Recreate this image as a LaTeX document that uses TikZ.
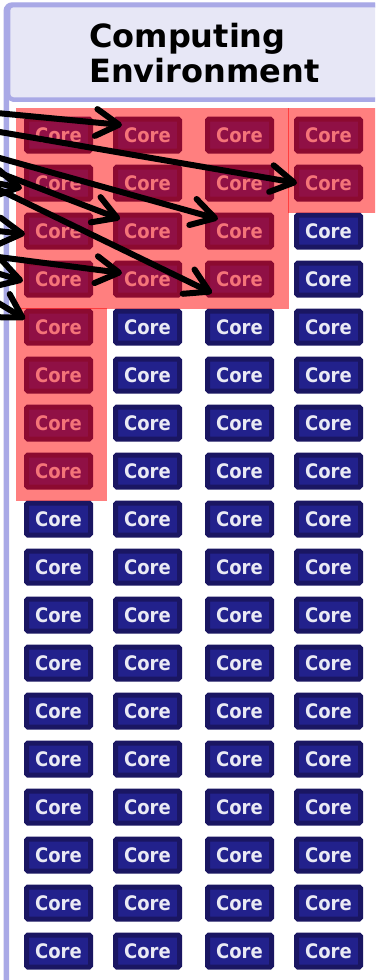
\documentclass[tikz,border=0pt]{standalone}
\usepackage{fontspec}
\setmainfont{DejaVu Sans}
\newfontfamily\condfont{DejaVu Sans Condensed}
\usetikzlibrary{arrows.meta}
\definecolor{lav}{HTML}{A9A9E6}
\definecolor{lavfill}{HTML}{E7E7F6}
\definecolor{coreedge}{HTML}{1A1662}
\definecolor{corefill}{HTML}{22218C}
\definecolor{coretext}{HTML}{EAEAF4}
\tikzset{
 corebox/.style={draw=coreedge, fill=corefill, line width=5pt, rounded corners=1.5pt,
   minimum width=64pt, minimum height=32pt, inner sep=0pt, text=coretext,
   font=\condfont\fontsize{20}{20}\selectfont\bfseries},
 hlite/.style={fill=red, fill opacity=0.5},
 ptr/.style={line width=6pt, line cap=round, -{Straight Barb[length=23pt,width=27pt,round]}},
 titletext/.style={font=\fontsize{32}{32}\selectfont\bfseries, inner sep=0pt, anchor=base west},
}
\begin{document}
\begin{tikzpicture}[x=1pt,y=-1pt]
\useasboundingbox (0,0) rectangle (375,980);
\clip (0,0) rectangle (375,980);
% frame and header
\draw[lav, line width=5.5pt, rounded corners=6pt, fill=white] (6.3,5) rectangle (420,1020);
\draw[lav, fill=lavfill, line width=4.5pt, rounded corners=5pt] (8,5) rectangle (420,99.5);
\node[titletext] (h1) at (89,47) {Computing};
\node[titletext] (h2) at (89,82) {Environment};
% cores
\foreach \r in {1,...,18} {
  \foreach \c/\x in {1/58.5,2/147.5,3/239.5,4/328.5} {
    \node[corebox] (c-\r-\c) at (\x,{135+48*(\r-1)}) {Core};
  }
}
% highlights
\fill[hlite] (16,108) rectangle (288.7,308.7);
\fill[hlite] (287.7,108) rectangle (380,213);
\fill[hlite] (16,307.7) rectangle (107,501);
% arrows
\coordinate (s1) at (-20,111.4);
\coordinate (s2) at (-20,128.6);
\coordinate (s3) at (-20,152.5);
\coordinate (s4) at (-20,165.5);
\coordinate (s5) at (-20,180.4);
\coordinate (s6) at (-20,254.6);
\coordinate (s7) at (-20,180);
\coordinate (s8) at (-20,229);
\coordinate (s9) at (-20,268);
\coordinate (s10) at (-20,292);
\draw[ptr] (s1) -- ([xshift=9pt,yshift=10pt]c-1-2.west);
\draw[ptr] (s2) -- ([xshift=3pt]c-2-4.west);
\draw[ptr] (s3) -- ([xshift=13pt,yshift=12pt]c-3-3.west);
\draw[ptr] (s4) -- ([xshift=7pt,yshift=12pt]c-3-2.west);
\draw[ptr] (s5) -- ([xshift=7pt,yshift=-14pt]c-4-3.west);
\draw[ptr] (s6) -- ([xshift=9pt,yshift=6pt]c-4-2.west);
\draw[ptr] (s7) -- ([xshift=-2pt,yshift=-5pt]c-2-1.west);
\draw[ptr] (s8) -- ([xshift=1pt,yshift=-3pt]c-3-1.west);
\draw[ptr] (s9) -- ([xshift=-1pt,yshift=-2pt]c-4-1.west);
\draw[ptr] (s10) -- ([xshift=1pt,yshift=8pt]c-5-1.west);
\end{tikzpicture}
\end{document}
